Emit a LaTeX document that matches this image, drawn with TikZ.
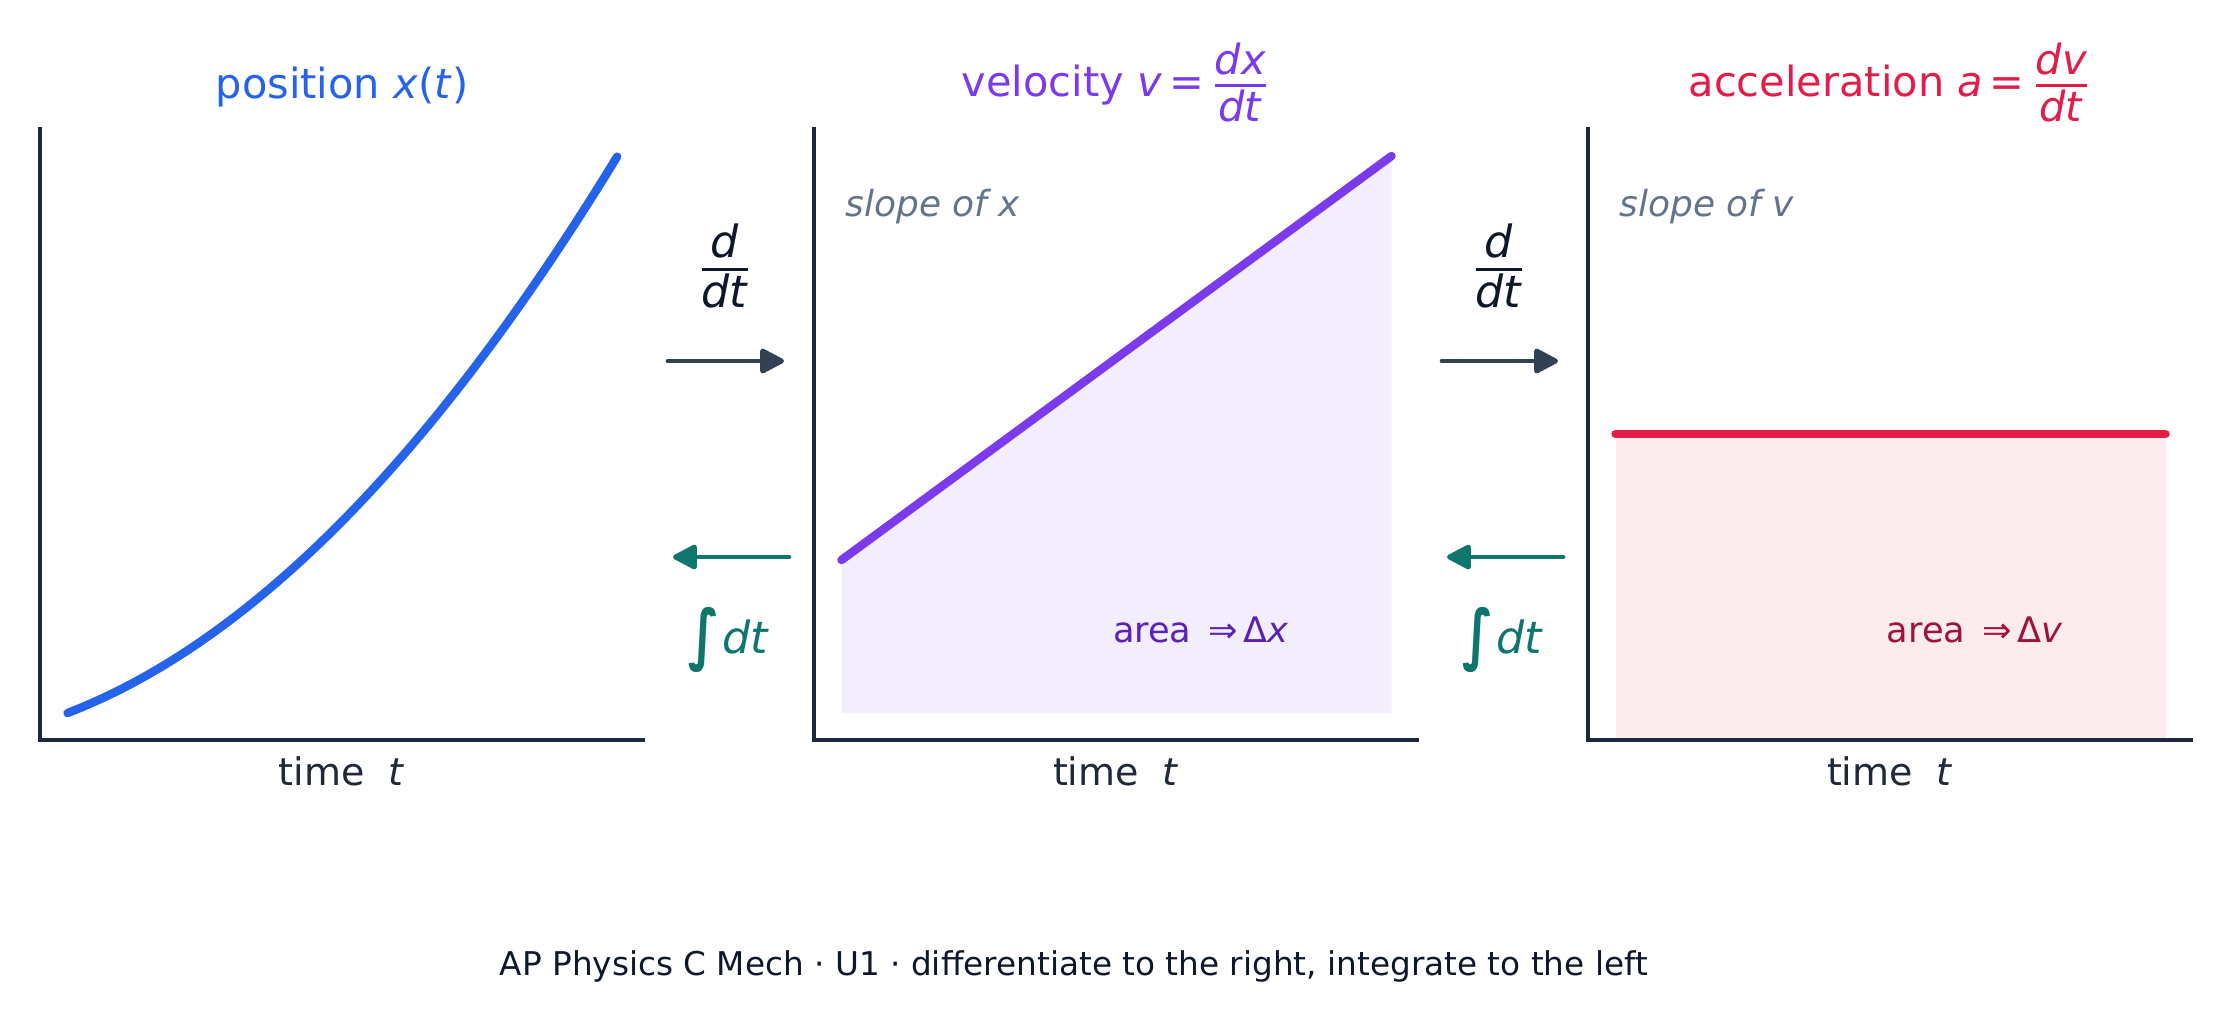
\documentclass[tikz,border=0pt]{standalone}
\usepackage{amsmath}
\usepackage{graphicx}
\usepackage{fontspec}
\setmainfont{DejaVu Sans}
\usepackage{tikz}
\usetikzlibrary{arrows.meta,positioning}
\usepackage{xcolor}
\definecolor{posblue}{RGB}{37,99,235}
\definecolor{velpurple}{RGB}{124,58,237}
\definecolor{accred}{RGB}{225,29,72}
\definecolor{slopegray}{RGB}{100,116,139}
\definecolor{axisdark}{RGB}{30,41,59}
\definecolor{labeldark}{RGB}{31,41,55}
\definecolor{inkdark}{RGB}{15,23,42}
\definecolor{arrowdark}{RGB}{51,65,85}
\definecolor{intteal}{RGB}{15,118,110}
\definecolor{areapurple}{RGB}{91,33,182}
\definecolor{areared}{RGB}{159,18,57}
\definecolor{velfill}{RGB}{242,238,253}
\definecolor{accfill}{RGB}{252,236,240}
\tikzstyle{diffarrow} = [line width=1.35pt,line cap=round,-{Triangle[length=7.6pt,width=7.6pt,round]},color=arrowdark]
\tikzstyle{intarrow} = [line width=1.35pt,line cap=round,-{Triangle[length=7.6pt,width=7.6pt,round]},color=intteal]
\newcommand{\pfrac}[2]{\ensuremath{\genfrac{}{}{0.8pt}{1}{\hbox{\textit{#1}\rule[-0.17em]{0pt}{0pt}}}{\hbox{\textit{#2}}}}}
\newcommand{\intdt}{\raisebox{-0.1em}{\scalebox{1.15}[1.5]{\bfseries ∫}}\kern0.06em\textit{dt}}

\begin{document}
\begin{tikzpicture}[x=0.01cm, y=-0.01cm,
    spine/.style={line width=1pt, color=axisdark},
    curve/.style={line width=2.4pt, line cap=round, line join=round},
    title/.style={anchor=base, inner sep=0pt, font=\fontsize{11.8}{14}\selectfont},
    tlabel/.style={anchor=base, inner sep=0pt, text=labeldark, font=\fontsize{10.8}{13}\selectfont},
    slope/.style={anchor=base west, inner sep=0pt, text=slopegray, font=\fontsize{10.2}{12}\selectfont\itshape},
    area/.style={anchor=base, inner sep=0pt, font=\fontsize{10}{12}\selectfont},
    oplabel/.style={inner sep=0pt, font=\fontsize{12.6}{15}\selectfont}]

% Page
\useasboundingbox (0,0) rectangle (2231,1023);
\fill[white] (0,0) rectangle (2231,1023);

% Position panel
\draw[curve, posblue] plot[domain=0:1, samples=80] ({67.5+550*\x}, {713-557*(0.38*\x+0.62*\x*\x)});
\draw[spine] (40,127) -- (40,740) -- (645,740);
\node[title, text=posblue] (postitle) at (342,98) {position \textit{x}(\textit{t})};
\node[tlabel] (postime) at (342,785) {time~~\textit{t}};

% Velocity panel
\fill[velfill] (841.5,713) -- (841.5,560) -- (1391.5,156) -- (1391.5,713) -- cycle;
\draw[curve, velpurple] (841.5,560) -- (1391.5,156);
\draw[spine] (814,127) -- (814,740) -- (1419,740);
\node[title, text=velpurple] (veltitle) at (1116,96) {velocity \textit{v}\,=\,\pfrac{dx}{dt}};
\node[tlabel] (veltime) at (1116,785) {time~~\textit{t}};
\node[slope] (velslope) at (845,216) {slope of x};
\node[area, text=areapurple] (velarea) at (1201,642) {area \,⇒\,Δ\textit{x}};

% Acceleration panel
\fill[accfill] (1615.5,740) -- (1615.5,434) -- (2165.5,434) -- (2165.5,740) -- cycle;
\draw[curve, accred] (1615.5,434) -- (2165.5,434);
\draw[spine] (1588,127) -- (1588,740) -- (2193,740);
\node[title, text=accred] (acctitle) at (1890,96) {acceleration \textit{a}\,=\,\pfrac{dv}{dt}};
\node[tlabel] (acctime) at (1890,785) {time~~\textit{t}};
\node[slope] (accslope) at (1619,216) {slope of v};
\node[area, text=areared] (accarea) at (1975,642) {area \,⇒\,Δ\textit{v}};

% Operators between panels
\node[oplabel, text=inkdark] (diffa) at (725,266) {\pfrac{d}{dt}};
\node[oplabel, text=inkdark] (diffb) at (1499,266) {\pfrac{d}{dt}};
\node[oplabel, anchor=base, text=intteal] (inta) at (729,653) {\intdt};
\node[oplabel, anchor=base, text=intteal] (intb) at (1503,653) {\intdt};

\coordinate (da0) at (668,361);
\coordinate (da1) at (784,361);
\coordinate (db0) at (1442,361);
\coordinate (db1) at (1558,361);
\coordinate (ia0) at (789,557);
\coordinate (ia1) at (673,557);
\coordinate (ib0) at (1563,557);
\coordinate (ib1) at (1447,557);
\draw[diffarrow] (da0) -- (da1);
\draw[diffarrow] (db0) -- (db1);
\draw[intarrow] (ia0) -- (ia1);
\draw[intarrow] (ib0) -- (ib1);

% Footer
\node[anchor=base, inner sep=0pt, text=inkdark, font=\fontsize{9.3}{11}\selectfont] (footer) at (1074,975) {AP Physics C Mech · U1 · differentiate to the right, integrate to the left};

\end{tikzpicture}
\end{document}
